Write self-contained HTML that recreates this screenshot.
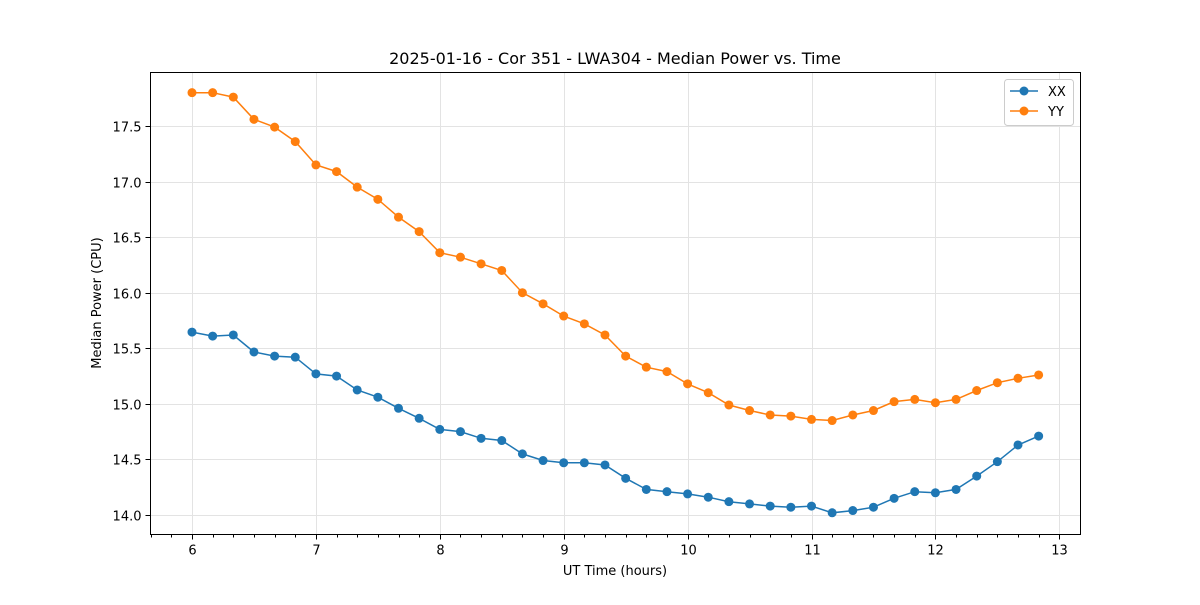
<!DOCTYPE html>
<html><head><meta charset="utf-8"><style>
body{margin:0;background:#fff;}
svg text{font-family:"DejaVu Sans","Liberation Sans",sans-serif;fill:#000;}
</style></head><body>
<svg id="chart" width="1200" height="600" xmlns="http://www.w3.org/2000/svg">
<rect width="1200" height="600" fill="#fff"/>
<g id="grid"></g><g id="axes"></g><g id="series"></g>
<text x="615" y="64" font-size="16" text-anchor="middle">2025-01-16 - Cor 351 - LWA304 - Median Power vs. Time</text>
<text x="615" y="575" font-size="13" text-anchor="middle">UT Time (hours)</text>
<text x="0" y="0" font-size="13" text-anchor="middle" transform="translate(101,303) rotate(-90)">Median Power (CPU)</text>
<g>
<rect x="1004.5" y="79.5" width="69" height="46" rx="3" fill="#fff" stroke="#ccc"/>
<line x1="1010" y1="91" x2="1038" y2="91" stroke="#1f77b4" stroke-width="1.5"/><circle cx="1024" cy="91" r="4.5" fill="#1f77b4"/>
<text x="1048" y="96" font-size="13">XX</text>
<line x1="1010" y1="111" x2="1038" y2="111" stroke="#ff7f0e" stroke-width="1.5"/><circle cx="1024" cy="111" r="4.5" fill="#ff7f0e"/>
<text x="1048" y="116" font-size="13">YY</text>
</g>
</svg>
<script>
const xxValues=[15.646,15.61,15.62,15.467,15.43,15.42,15.27,15.25,15.125,15.06,14.96,14.87,14.77,14.75,14.69,14.67,14.55,14.49,14.47,14.47,14.45,14.33,14.23,14.21,14.19,14.16,14.12,14.10,14.08,14.07,14.08,14.02,14.04,14.07,14.15,14.21,14.20,14.23,14.35,14.48,14.63,14.71];
const yyValues=[17.80,17.80,17.76,17.56,17.49,17.36,17.15,17.09,16.95,16.84,16.68,16.55,16.36,16.32,16.26,16.20,16.0,15.90,15.79,15.72,15.62,15.43,15.33,15.29,15.18,15.10,14.99,14.94,14.90,14.89,14.86,14.85,14.90,14.94,15.02,15.04,15.01,15.04,15.12,15.19,15.23,15.26];
const xTicks=[6,7,8,9,10,11,12,13];
const yTicks=[14.0,14.5,15.0,15.5,16.0,16.5,17.0,17.5];
const L=150.5,R=1080.5,T=72.5,B=534.5;
const X=v=>192+(v-6)*123.9;
const Y=v=>515-(v-14)*111.14;
const times=xxValues.map((_,i)=>6+i/6);
const NS="http://www.w3.org/2000/svg";
function mk(p,t,a){const e=document.createElementNS(NS,t);for(const k in a)e.setAttribute(k,a[k]);p.appendChild(e);return e;}
const grid=document.getElementById('grid'),axes=document.getElementById('axes'),ser=document.getElementById('series');
xTicks.forEach(t=>{const x=Math.round(X(t))+0.5;
const g=mk(grid,'line',{x1:x,x2:x,y1:T,y2:B,stroke:'#e3e3e3','stroke-width':1});


mk(axes,'line',{x1:x,x2:x,y1:B,y2:B+5,stroke:'#000'});
const tx=mk(axes,'text',{x:x,y:B+20,'font-size':13,'text-anchor':'middle'});tx.textContent=t;

});
for(let k=-2;k<=42;k++){const x=Math.round(X(6+k/6))+0.5;if(x<L||x>R)continue;mk(axes,'line',{x1:x,x2:x,y1:B,y2:B+3,stroke:'#000'});}
yTicks.forEach(t=>{const y=Math.round(Y(t))+0.5;
const g=mk(grid,'line',{x1:L,x2:R,y1:y,y2:y,stroke:'#e3e3e3','stroke-width':1});


mk(axes,'line',{x1:L-5,x2:L,y1:y,y2:y,stroke:'#000'});
const tx=mk(axes,'text',{x:L-9,y:y+5,'font-size':13,'text-anchor':'end'});tx.textContent=t.toFixed(1);

});
const fr=mk(axes,'rect',{x:L,y:T,width:R-L,height:B-T,fill:'none',stroke:'#000','stroke-width':1});


function draw(vals,color,name){
const pts=vals.map((v,i)=>X(times[i]).toFixed(1)+','+Y(v).toFixed(1)).join(' ');
const pl=mk(ser,'polyline',{points:pts,fill:'none',stroke:color,'stroke-width':1.5});


vals.forEach((v,i)=>{const c=mk(ser,'circle',{cx:X(times[i]),cy:Y(v),r:4.5,fill:color});

});}
draw(xxValues,'#1f77b4','xx');
draw(yyValues,'#ff7f0e','yy');
</script>
</body></html>
